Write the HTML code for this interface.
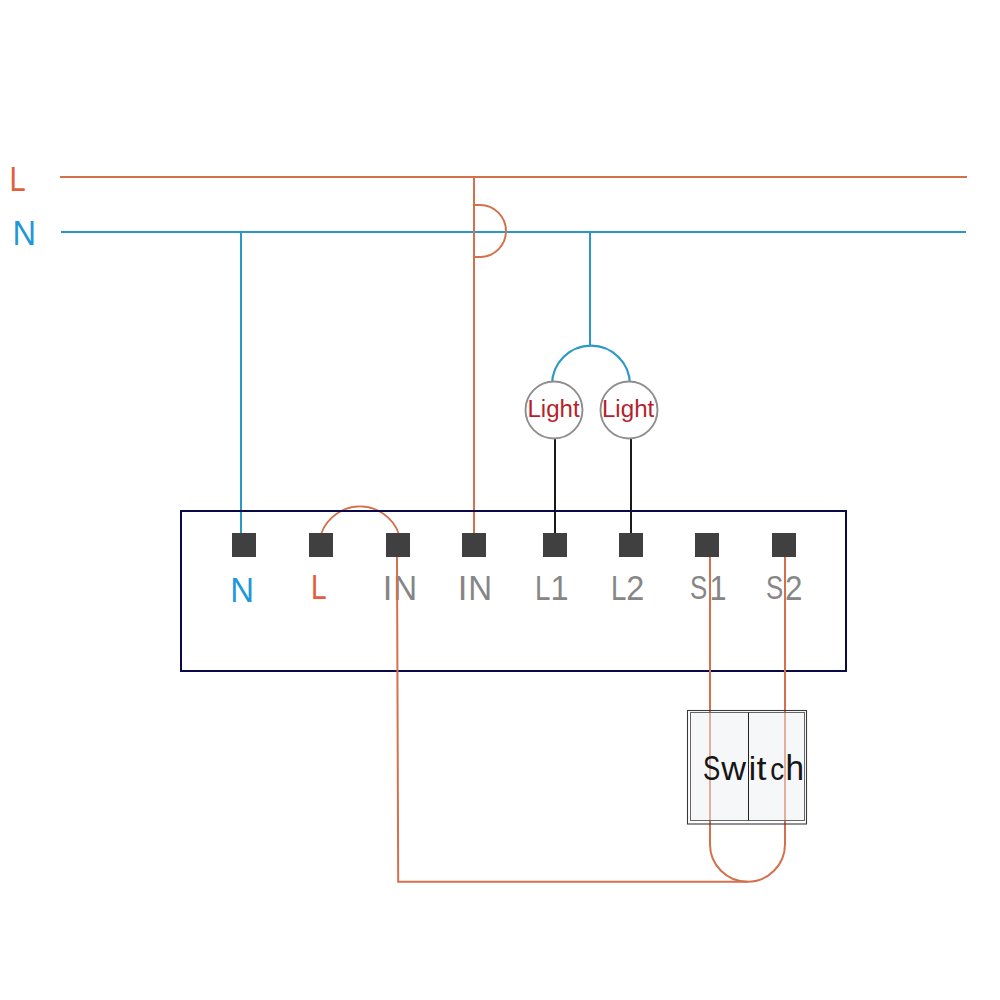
<!DOCTYPE html>
<html>
<head>
<meta charset="utf-8">
<style>
html,body{margin:0;padding:0;background:#fff;}
body{width:1000px;height:1000px;overflow:hidden;}
svg{display:block;}
text{font-family:"Liberation Sans",sans-serif;}
</style>
</head>
<body>
<svg width="1000" height="1000" viewBox="0 0 1000 1000">
<rect width="1000" height="1000" fill="#fff"/>
<g fill="none" stroke-width="2">
<line x1="60" y1="177" x2="967" y2="177" stroke="#d4704c" stroke-width="2"/>
<line x1="61" y1="232" x2="966" y2="232" stroke="#2b98c6" stroke-width="2"/>
<line x1="474" y1="177" x2="474" y2="533" stroke="#d4704c"/>
<path d="M474,205 H480 A26,26 0 0 1 480,257 H474" stroke="#d4704c"/>
<line x1="241" y1="232" x2="241" y2="533" stroke="#2b98c6"/>
<line x1="590" y1="232" x2="590" y2="345" stroke="#2b98c6"/>
<path d="M552.1,384.6 A38.9,38.9 0 0 1 629.9,384.6" stroke="#2b98c6" stroke-width="2.2"/>
<line x1="555" y1="439" x2="555" y2="533" stroke="#1a1a1a"/>
<line x1="631" y1="439" x2="631" y2="533" stroke="#1a1a1a"/>
</g>
<circle cx="554" cy="410" r="28.5" fill="#fff" stroke="#8e8e8e" stroke-width="1.9"/>
<circle cx="629" cy="410" r="28.5" fill="#fff" stroke="#8e8e8e" stroke-width="1.9"/>
<text transform="translate(527.42,416.60) scale(0.998,1)" font-size="24.15" fill="#b81f2c">Light</text>
<text transform="translate(601.92,416.80) scale(0.972,1)" font-size="24.84" fill="#b81f2c">Light</text>
<path d="M321.5,533 A41.2,41.2 0 0 1 398.5,533" fill="none" stroke="#d4704c" stroke-width="1.8"/>
<rect x="181" y="511" width="665" height="160" fill="none" stroke="#0a0a48" stroke-width="2"/>
<g fill="#404040">
<rect x="232" y="533" width="24" height="24"/>
<rect x="309" y="533" width="24" height="24"/>
<rect x="386" y="533" width="24" height="24"/>
<rect x="462" y="533" width="24" height="24"/>
<rect x="543" y="533" width="24" height="24"/>
<rect x="619" y="533" width="24" height="24"/>
<rect x="695" y="533" width="24" height="24"/>
<rect x="772" y="533" width="24" height="24"/>
</g>
<text transform="translate(9.62,191.00) scale(0.819,1)" font-size="35.47" fill="#e45e3c">L</text>
<text transform="translate(12.53,244.80) scale(0.942,1)" font-size="34.59" fill="#1f98d6">N</text>
<text transform="translate(230.30,601.80) scale(0.944,1)" font-size="34.88" fill="#1f98d6">N</text>
<text transform="translate(310.89,599.40) scale(0.806,1)" font-size="34.88" fill="#e45e3c">L</text>
<text transform="translate(382.81,599.80) scale(1.000,1)" font-size="34.59" fill="#868686">I</text>
<text transform="translate(393.28,599.80) scale(0.957,1)" font-size="34.59" fill="#868686">N</text>
<text transform="translate(457.81,599.80) scale(1.000,1)" font-size="34.59" fill="#868686">I</text>
<text transform="translate(468.28,599.80) scale(0.957,1)" font-size="34.59" fill="#868686">N</text>
<text transform="translate(534.93,599.80) scale(0.800,1)" font-size="34.59" fill="#868686">L</text>
<text transform="translate(550.53,599.80) scale(0.939,1)" font-size="34.59" fill="#868686">1</text>
<text transform="translate(610.93,599.80) scale(0.800,1)" font-size="34.59" fill="#868686">L</text>
<text transform="translate(626.37,599.80) scale(0.945,1)" font-size="34.37" fill="#868686">2</text>
<text transform="translate(689.92,599.40) scale(0.766,1)" font-size="33.80" fill="#868686">S</text>
<text transform="translate(709.47,599.80) scale(0.885,1)" font-size="34.59" fill="#868686">1</text>
<text transform="translate(765.92,599.40) scale(0.766,1)" font-size="33.80" fill="#868686">S</text>
<text transform="translate(785.12,599.80) scale(0.913,1)" font-size="34.37" fill="#868686">2</text>
<g fill="none" stroke="#d4704c" stroke-width="2">

<path d="M397,557 L398.2,881.8 H747.5"/>
<path d="M710,557 V844.3 A37.5,37.5 0 0 0 785,844.3 V557"/>
</g>
<rect x="687.5" y="710.5" width="119" height="113.5" fill="none" stroke="#3a3a3a" stroke-width="1.1"/>
<rect x="690.5" y="712.5" width="114" height="108" fill="#edf0f4" fill-opacity="0.5" stroke="#666" stroke-width="1"/>
<line x1="748.5" y1="712.5" x2="748.5" y2="820.5" stroke="#222" stroke-width="1"/>
<text transform="translate(703.02,779.60) scale(0.756,1)" font-size="34.23" fill="#161616">S</text>
<text transform="translate(721.35,779.60) scale(1.029,1)" font-size="33.31" fill="#161616">w</text>
<text transform="translate(748.68,779.60) scale(1.000,1)" font-size="33.26" fill="#161616">i</text>
<text transform="translate(756.56,779.60) scale(1.080,1)" font-size="33.26" fill="#161616">t</text>
<text transform="translate(770.22,779.60) scale(0.866,1)" font-size="32.15" fill="#161616">c</text>
<text transform="translate(785.58,779.60) scale(0.953,1)" font-size="35.05" fill="#161616">h</text>
</svg>
</body>
</html>
